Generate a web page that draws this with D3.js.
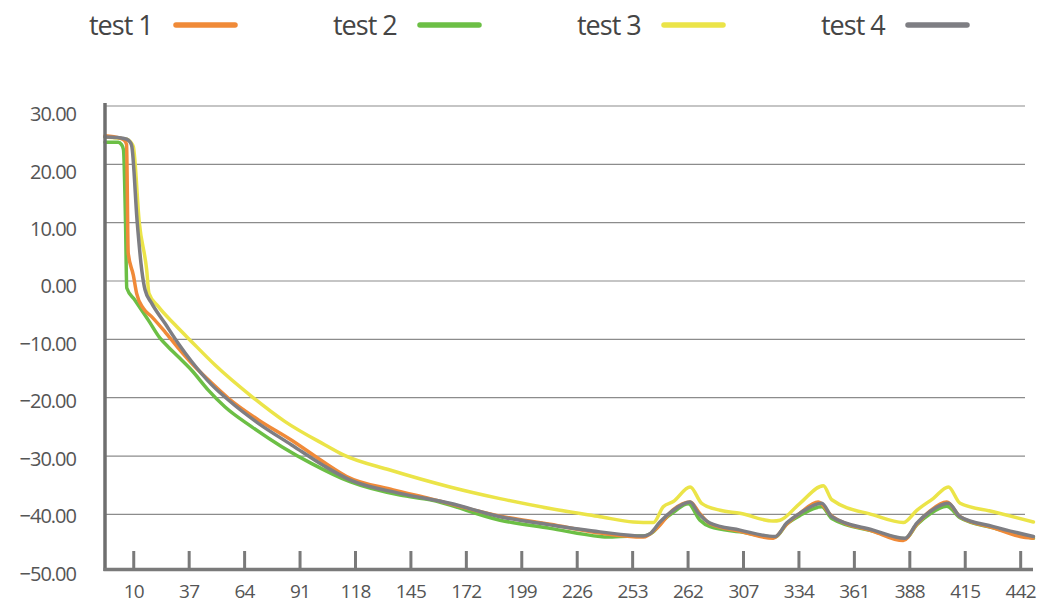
<!DOCTYPE html>
<html><head><meta charset="utf-8">
<script src="https://cdn.jsdelivr.net/npm/d3@7"></script>
<style>body{margin:0;background:#fff} svg{display:block}</style>
</head><body>
<svg id="chart" width="1040" height="604"></svg>
<script>
const seriesNames = ["test 1","test 2","test 3","test 4"];
const seriesColors = ["#f08a38","#6cbf45","#ebe448","#7e7e83"];

const test1 = [[-4,24.9],[3.3,24.5],[5.5,24.1],[6.5,23.4],[7.3,4.8],[9.8,1.0],[11.4,-2.1],[14.7,-4.7],[18.7,-6.1],[25.2,-8.7],[31.7,-11.5],[38.2,-14.1],[48.0,-17.5],[56.1,-20.1],[70.7,-23.8],[86.9,-27.3],[103.2,-31.2],[113.7,-33.5],[136.4,-35.8],[154.3,-37.3],[188.4,-40.3],[212.8,-41.7],[237.1,-43.2],[258.2,-43.9],[264.7,-42.4],[272.8,-39.2],[281,-37.9],[285.8,-39.9],[290.7,-41.6],[305.3,-42.9],[321.5,-44.1],[328,-41.7],[334.5,-39.8],[343.4,-37.9],[350,-40.3],[370.2,-42.9],[384.8,-44.5],[391.4,-41.7],[397.9,-39.4],[406,-37.9],[412.5,-40.4],[428.7,-42.3],[441.7,-43.8],[448,-44.1]];

const test2 = [[-4,23.8],[2.5,23.8],[4.0,23.4],[5.0,22.5],[6.0,10.0],[6.6,-1.2],[10.6,-3.3],[17.1,-6.7],[22.8,-9.8],[26.8,-11.3],[31.7,-13.0],[38.2,-15.3],[46.3,-18.7],[54.5,-21.6],[67.5,-25.0],[82.1,-28.4],[96.7,-31.3],[115.3,-34.4],[139.7,-36.7],[154.3,-37.5],[188.4,-41.0],[212.8,-42.4],[237.1,-43.8],[240.4,-43.9],[253.3,-43.7],[258.2,-43.7],[263,-43.0],[268,-41.0],[273,-39.6],[280.1,-38.2],[285.8,-41.0],[290.7,-42.1],[305.3,-43.0],[322.4,-43.9],[328,-41.7],[334.5,-40.2],[345.1,-38.7],[350,-40.7],[370.2,-42.9],[385.7,-44.2],[391.4,-41.8],[397.9,-39.9],[406,-38.6],[412.5,-40.6],[428.7,-42.3],[448.2,-44.1]];

const test3 = [[-4,24.7],[6.6,24.3],[8.5,23.8],[9.8,23.0],[12.7,10.0],[16.3,1.9],[17.4,-2.1],[22.0,-4.4],[30.1,-7.5],[38.2,-10.4],[49.6,-14.4],[67.5,-19.8],[83.7,-24.1],[103.2,-28.1],[112.1,-29.8],[134.8,-32.4],[164,-35.3],[188.4,-37.3],[212.8,-39.0],[237.1,-40.4],[253.3,-41.3],[263.1,-41.4],[267.9,-38.7],[272.8,-37.8],[281,-35.3],[286.6,-38.1],[295.6,-39.3],[305.3,-39.8],[321.5,-41.15],[324.8,-41.0],[334.5,-38.1],[345.9,-35.1],[350,-37.5],[370.2,-40.1],[384.8,-41.4],[391.4,-39.3],[399.5,-37.25],[406.8,-35.3],[412.5,-38.1],[428.7,-39.55],[448.2,-41.3]];

const test4 = [[-4,24.7],[2,24.6],[6.6,24.3],[8,23.9],[9,23.2],[11.7,10.0],[13.9,1.9],[15.5,-1.5],[18.7,-3.8],[25.2,-7.25],[31.7,-10.7],[38.2,-13.8],[48.0,-17.8],[56.1,-20.4],[70.7,-24.4],[86.9,-28.1],[103.2,-31.8],[115.3,-34.1],[139.7,-36.4],[164,-38.1],[188.4,-40.4],[212.8,-41.8],[237.1,-43.0],[258.2,-43.7],[261.5,-43.3],[266.3,-41.3],[272.8,-39.3],[281,-37.9],[285,-39.8],[290.7,-41.5],[305.3,-42.7],[322.4,-43.8],[328,-41.5],[334.5,-39.8],[345.1,-38.1],[350,-40.4],[370.2,-42.7],[385.7,-44.1],[391.4,-41.5],[397.9,-39.5],[406.8,-38.1],[412.5,-40.4],[428.7,-42.1],[448.2,-43.8]];

const yTicks = [30,20,10,0,-10,-20,-30,-40,-50];
const xTickValues = [10,37,64,91,118,145,172,199,226,253,280,307,334,361,388,415,442];
const xTickLabels = ["10","37","64","91","118","145","172","199","226","253","262","307","334","361","388","415","442"];

const allSeries = [test1, test2, test3, test4];
const drawOrder = [2, 1, 0, 3];

const svg = d3.select("#chart");
const FONT = "'Open Sans', 'Noto Sans', sans-serif";

const x = d3.scaleLinear().domain([-4, 448]).range([105, 1033]);
const y = d3.scaleLinear().domain([-50, 30]).range([572.7, 106]);
const yLabel = d3.scaleLinear().domain([-50, 30]).range([573, 113.7]);

// gridlines
svg.append("g").selectAll("line").data(yTicks.filter(d => d > -50)).join("line")
  .attr("x1", 105).attr("x2", 1025)
  .attr("y1", d => y(d)).attr("y2", d => y(d))
  .attr("stroke", "#8c8c8c").attr("stroke-width", 1.2);

// y labels
const fmt = d3.format(".2f");
svg.append("g").selectAll("text").data(yTicks).join("text")
  .attr("x", 76).attr("y", d => yLabel(d))
  .attr("text-anchor", "end").attr("dominant-baseline", "central")
  .attr("font-family", FONT).attr("font-size", 20).attr("letter-spacing", "-1px")
  .attr("fill", "#555").text(d => fmt(d));

// lines
const line = d3.line().x(d => x(d[0])).y(d => y(d[1])).curve(d3.curveMonotoneX);
svg.append("g").selectAll("path").data(drawOrder).join("path")
  .attr("d", i => line(allSeries[i]))
  .attr("fill", "none").attr("stroke", i => seriesColors[i])
  .attr("stroke-width", 3.5).attr("stroke-linejoin", "round").attr("stroke-linecap", "round");

// axes
const axisY = 569.5;
svg.append("line").attr("x1", 105).attr("x2", 105).attr("y1", 103).attr("y2", axisY + 1.5)
  .attr("stroke", "#6f6f6f").attr("stroke-width", 3.5);
svg.append("line").attr("x1", 103.5).attr("x2", 1033).attr("y1", axisY).attr("y2", axisY)
  .attr("stroke", "#7a7a7a").attr("stroke-width", 3.5);

const xt = svg.append("g");
xt.selectAll("line").data(xTickValues).join("line")
  .attr("x1", d => x(d)).attr("x2", d => x(d))
  .attr("y1", 551).attr("y2", axisY)
  .attr("stroke", "#7a7a7a").attr("stroke-width", 3);
xt.selectAll("text").data(xTickValues).join("text")
  .attr("x", d => x(d)).attr("y", 591)
  .attr("text-anchor", "middle").attr("dominant-baseline", "central")
  .attr("font-family", FONT).attr("font-size", 19).attr("letter-spacing", "-0.8px")
  .attr("fill", "#555").text((d, i) => xTickLabels[i]);

// legend
const lg = svg.append("g").selectAll("g").data(seriesNames).join("g")
  .attr("transform", (d, i) => `translate(${89 + 244 * i},0)`);
lg.append("text").attr("x", 0).attr("y", 35)
  .attr("font-family", FONT).attr("font-size", 27).attr("letter-spacing", "-1px")
  .attr("fill", "#454545").text(d => d);
lg.append("line").attr("x1", 87).attr("x2", 146).attr("y1", 25).attr("y2", 25)
  .attr("stroke", (d, i) => seriesColors[i]).attr("stroke-width", 5.5).attr("stroke-linecap", "round");
</script>
</body></html>
